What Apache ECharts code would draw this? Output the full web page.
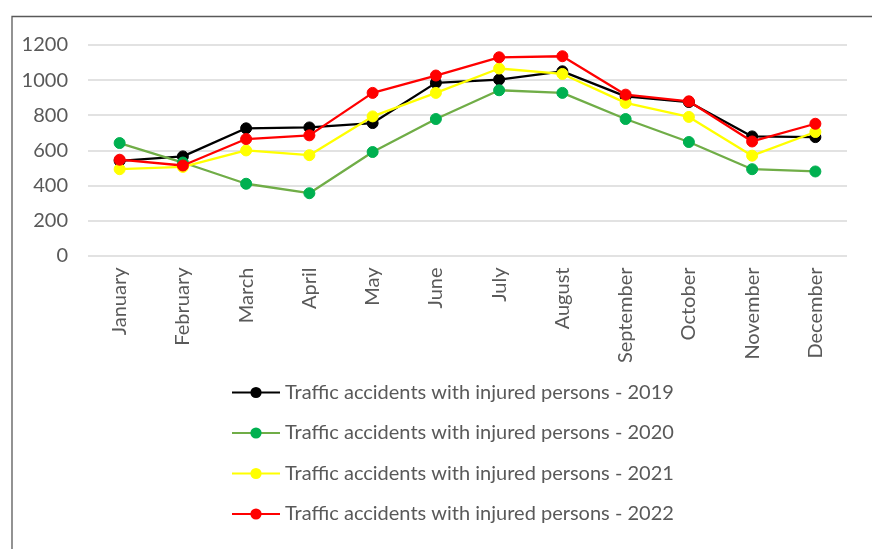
<!DOCTYPE html>
<html>
<head>
<meta charset="utf-8">
<script src="https://cdn.jsdelivr.net/npm/echarts@6/dist/echarts.min.js"></script>
<style>html,body{margin:0;padding:0;background:#fff;}#c{width:872px;height:549px;}</style>
</head>
<body>
<div id="c"></div>
<script>
const months = ['January','February','March','April','May','June','July','August','September','October','November','December'];
const yTicks = [0, 200, 400, 600, 800, 1000, 1200];
const names = [
  'Traffic accidents with injured persons - 2019',
  'Traffic accidents with injured persons - 2020',
  'Traffic accidents with injured persons - 2021',
  'Traffic accidents with injured persons - 2022'
];
const s2019 = [540, 565, 725, 730, 755, 984, 1003, 1050, 907, 875, 679, 675];
const s2020 = [641, 530, 409, 355, 590, 778, 942, 927, 778, 647, 492, 479];
const s2021 = [492, 505, 599, 572, 793, 927, 1066, 1035, 870, 790, 569, 704];
const s2022 = [546, 513, 664, 685, 927, 1026, 1130, 1136, 917, 879, 650, 751];

const FONT = 'Lato';
const TXT = '#595959';
const FS = 20;
const styles = [
  {line: '#000000', mark: '#000000'},
  {line: '#70AD47', mark: '#00B050'},
  {line: '#FFFF00', mark: '#FFFF00'},
  {line: '#FF0000', mark: '#FF0000'}
];
const data = [s2019, s2020, s2021, s2022];

const chart = echarts.init(document.getElementById('c'));
chart.setOption({
  animation: false,
  backgroundColor: '#fff',
  graphic: [{
    type: 'rect', left: 9.5, top: 14,
    shape: {x: 0, y: 0, width: 900, height: 600},
    style: {fill: 'none', stroke: '#595959', lineWidth: 1.3},
    silent: true
  }],
  grid: {left: 88, right: 25, top: 45, bottom: 293.5, containLabel: false},
  xAxis: {
    type: 'category',
    data: months,
    boundaryGap: true,
    axisLine: {show: false},
    axisTick: {show: false},
    axisLabel: {rotate: 90, margin: 12, color: TXT, fontFamily: FONT, fontSize: FS, interval: 0}
  },
  yAxis: {
    type: 'value',
    min: yTicks[0], max: yTicks[yTicks.length - 1], interval: 200,
    axisLine: {show: false},
    axisTick: {show: false},
    axisLabel: {margin: 20, color: TXT, fontFamily: FONT, fontSize: FS, formatter: v => String(v)},
    splitLine: {lineStyle: {color: '#d9d9d9', width: 1.5}}
  },
  legend: {
    orient: 'vertical',
    left: 231, top: 382.5,
    padding: 0,
    itemWidth: 48, itemHeight: 14,
    itemGap: 20.5,
    textStyle: {color: TXT, fontFamily: FONT, fontSize: FS, lineHeight: 20},
    data: names
  },
  series: data.map((d, i) => ({
    name: names[i],
    type: 'line',
    data: d,
    symbol: 'circle',
    symbolSize: 11,
    lineStyle: {color: styles[i].line, width: 2.3},
    itemStyle: {color: styles[i].mark, borderColor: styles[i].mark},
    z: 2 + i
  }))
});
</script>
</body>
</html>
